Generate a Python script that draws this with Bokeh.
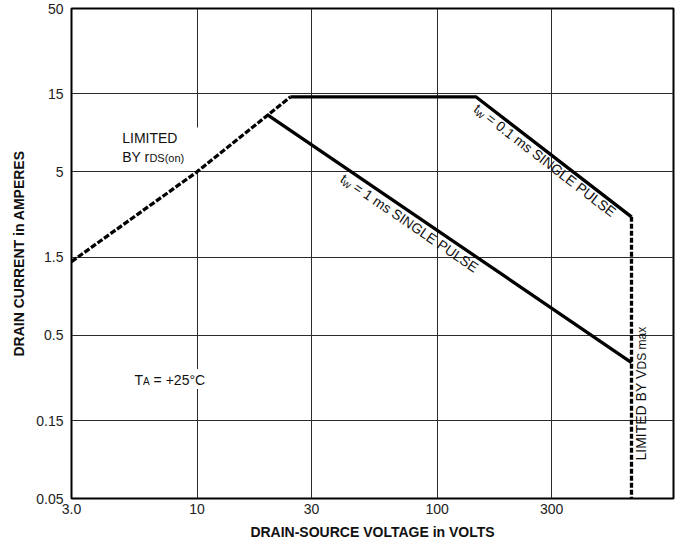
import math
from bokeh.plotting import figure
from bokeh.models import Range1d, FixedTicker, Label
from bokeh.embed import file_html
from bokeh.resources import INLINE

# ---------------- data ----------------
x_ticks = [3, 10, 30, 100, 300]
x_tick_labels = ["3.0", "10", "30", "100", "300"]
y_ticks = [0.05, 0.15, 0.5, 1.5, 5, 15, 50]
y_tick_labels = ["0.05", "0.15", "0.5", "1.5", "5", "15", "50"]

# limited by rDS(on) (dashed)
rds_v = [3.0, 10.0, 24.5]
rds_i = [1.41, 5.0, 14.4]
# tw = 0.1 ms single pulse
p01_v = [24.5, 145.0, 645.0]
p01_i = [14.4, 14.4, 2.65]
# tw = 1 ms single pulse
p1_v = [19.6, 645.0]
p1_i = [11.2, 0.34]
# limited by VDS max (dashed)
vds_v = [645.0, 645.0]
vds_i = [2.65, 0.05]

X_MIN, X_MAX = 3.0, 965.0
Y_MIN, Y_MAX = 0.05, 50.0

FONT = "Liberation Sans"
INK = "#111111"

W, H = 681, 546
BL, BR, BT, BB = 71, 8, 8, 48
PL, PR, PT, PB = BL, W - BR, BT, H - BB

LX0, LX1 = math.log10(X_MIN), math.log10(X_MAX)
LY0, LY1 = math.log10(Y_MIN), math.log10(Y_MAX)

# Label with "middle" baseline: glyph baseline sits K*size below the anchor
K = 0.39


def to_px(x, y):
    px = PL + (math.log10(x) - LX0) / (LX1 - LX0) * (PR - PL)
    py = PT + (LY1 - math.log10(y)) / (LY1 - LY0) * (PB - PT)
    return px, py


def to_data(px, py):
    x = 10 ** (LX0 + (px - PL) / (PR - PL) * (LX1 - LX0))
    y = 10 ** (LY1 - (py - PT) / (PB - PT) * (LY1 - LY0))
    return x, y


p = figure(width=W, height=H, x_axis_type="log", y_axis_type="log",
           x_range=Range1d(X_MIN, X_MAX), y_range=Range1d(Y_MIN, Y_MAX),
           output_backend="svg", toolbar_location=None,
           min_border_left=BL, min_border_right=BR,
           min_border_top=BT, min_border_bottom=BB)
p.background_fill_color = "white"
p.border_fill_color = "white"
p.outline_line_color = "black"
p.outline_line_width = 2

for g, ticks in ((p.xgrid, x_ticks), (p.ygrid, y_ticks)):
    g.ticker = FixedTicker(ticks=ticks)
    g.grid_line_color = "#2a2a2a"
    g.grid_line_width = 1
    g.level = "image"

for ax, ticks, labels in ((p.xaxis, x_ticks, x_tick_labels),
                          (p.yaxis, y_ticks, y_tick_labels)):
    ax.ticker = FixedTicker(ticks=ticks)
    ax.major_label_overrides = {t: l for t, l in zip(ticks, labels)}
    ax.axis_line_color = None
    ax.major_tick_line_color = None
    ax.minor_tick_line_color = None
    ax.major_tick_out = 0
    ax.major_tick_in = 0
    ax.major_label_text_font = FONT
    ax.major_label_text_font_size = "14px"
    ax.major_label_text_color = "#222222"
    ax.axis_label_text_font = FONT
    ax.axis_label_text_font_size = "14px"
    ax.axis_label_text_font_style = "bold"
    ax.axis_label_text_color = INK

p.xaxis.major_label_standoff = 5
p.yaxis.major_label_standoff = 8

p.xaxis.axis_label = "DRAIN-SOURCE VOLTAGE in VOLTS"
p.xaxis.axis_label_standoff = 7
p.yaxis.axis_label = "DRAIN CURRENT in AMPERES"
p.yaxis.axis_label_standoff = 6


def lab(px, py, text, size, angle=0.0, bold=False, align="left", color=INK, **kw):
    """(px, py) is the wanted baseline-left point in picture pixels."""
    ax_ = px - K * size * math.sin(angle)
    ay_ = py - K * size * math.cos(angle)
    x, y = to_data(ax_, ay_)
    l = Label(x=x, y=y, text=text, text_font=FONT, text_font_size=f"{size}px",
              text_font_style="bold" if bold else "normal", angle=angle,
              text_align=align, text_baseline="middle", text_color=color, **kw)
    p.add_layout(l)
    return l


def along_line(v0, i0, v1, i1):
    x0, y0 = to_px(v0, i0)
    x1, y1 = to_px(v1, i1)
    L = math.hypot(x1 - x0, y1 - y0)
    dx, dy = (x1 - x0) / L, (y1 - y0) / L
    nx, ny = -dy, dx
    def pt(a, q):
        return x0 + a * dx + q * nx, y0 + a * dy + q * ny
    ang = -math.atan2(dy, dx)
    return pt, ang


def white_box(px0, py0, px1, py1):
    x0, y0 = to_data(px0, py0)
    x1, y1 = to_data(px1, py1)
    p.quad(left=[x0], right=[x1], top=[y0], bottom=[y1],
           fill_color="white", line_color=None)


# white backgrounds behind the horizontal labels
white_box(116, 127, 200, 169)
white_box(131.5, 368.5, 221.5, 388.5)

# curves
p.line(rds_v, rds_i, line_width=3.3, line_dash="6 2", color="black")
p.line(p01_v, p01_i, line_width=3.3, color="black", line_join="miter")
p.line(p1_v, p1_i, line_width=3.3, color="black")
p.line(vds_v, vds_i, line_width=3.3, line_dash="5 2", color="black")

SP14 = 0.278 * 14  # width of a space at 14px

# LIMITED BY rDS(on)
lab(121.7, 143.3, "LIMITED", 14)
lab(121.7, 161.7, "BY r", 14)
lab(121.7 + 27.2, 161.7, "DS(on)", 11)

# TA = +25°C
lab(134, 385, "T", 14)
lab(134 + 8.55, 385, "A", 10)
lab(134 + 8.55 + 6.67 + SP14, 385, "= +25°C", 14)


def pulse_label(v0, i0, v1, i1, along0, perp, rest):
    pt, ang = along_line(v0, i0, v1, i1)
    bx, by = pt(along0, perp)
    lab(bx, by, "tw = " + rest, 14, angle=ang, text_alpha=0,
        background_fill_color="white", background_fill_alpha=1.0,
        padding=1, level="underlay")
    lab(bx, by, "t", 14, angle=ang)
    wx, wy = pt(along0 + 3.9, perp + 1.5)
    lab(wx, wy, "w", 11, angle=ang)
    rx, ry = pt(along0 + 3.9 + 7.9 + SP14, perp)
    lab(rx, ry, "= " + rest, 14, angle=ang)


pulse_label(p1_v[0], p1_i[0], p1_v[1], p1_i[1], 97, 15, "1 ms SINGLE PULSE")
pulse_label(p01_v[1], p01_i[1], p01_v[2], p01_i[2], 6, 13.5, "0.1 ms SINGLE PULSE")

# LIMITED BY VDS max (vertical, reading upwards)
lab(646, 460, "LIMITED BY V", 14, angle=math.pi / 2)
lab(646, 460 - 91.0, "DS max", 12, angle=math.pi / 2)

open("out.html", "w").write(file_html(p, INLINE))
